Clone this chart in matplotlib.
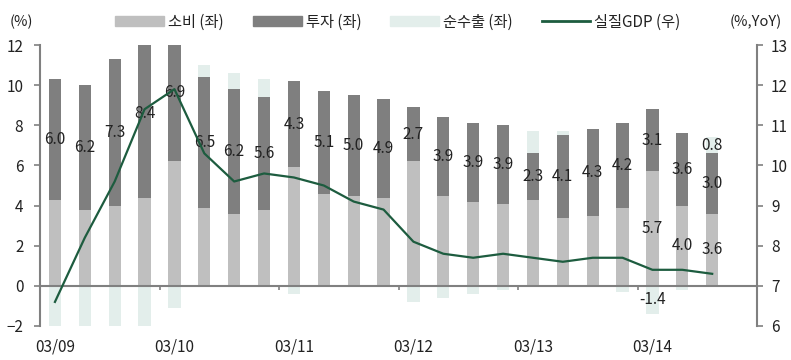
import matplotlib
matplotlib.use('Agg')
import matplotlib.pyplot as plt
from matplotlib.patches import Patch
from matplotlib.lines import Line2D
import numpy as np

plt.rcParams['font.family'] = ['Noto Sans CJK KR', 'DejaVu Sans']
plt.rcParams['axes.unicode_minus'] = True

# quarterly data, 09Q1 ~ 14Q3
consumption = [4.3, 3.8, 4.0, 4.4, 6.2, 3.9, 3.6, 3.8, 5.9, 4.6, 4.5, 4.4,
               6.2, 4.5, 4.2, 4.1, 4.3, 3.4, 3.5, 3.9, 5.7, 4.0, 3.6]
investment = [6.0, 6.2, 7.3, 8.4, 6.9, 6.5, 6.2, 5.6, 4.3, 5.1, 5.0, 4.9,
              2.7, 3.9, 3.9, 3.9, 2.3, 4.1, 4.3, 4.2, 3.1, 3.6, 3.0]
net_exports = [-3.7, -2.9, -2.5, -2.3, -1.1, 0.6, 0.8, 0.9, -0.4, 0.0, 0.0, 0.0,
               -0.8, -0.6, -0.4, -0.2, 1.1, 0.2, 0.0, -0.3, -1.4, -0.2, 0.8]
gdp = [6.6, 8.2, 9.6, 11.4, 11.9, 10.3, 9.6, 9.8, 9.7, 9.5, 9.1, 8.9,
       8.1, 7.8, 7.7, 7.8, 7.7, 7.6, 7.7, 7.7, 7.4, 7.4, 7.3]
year_labels = ['03/09', '03/10', '03/11', '03/12', '03/13', '03/14']
n_slots = 24  # axis runs to 14Q4

c_cons = '#bfbfbf'
c_inv = '#7f7f7f'
c_nx = '#e3eeeb'
c_gdp = '#1d5c3f'
c_axis = '#808080'
c_text = '#222222'

x = np.arange(len(consumption))
cons = np.array(consumption)
inv = np.array(investment)
nx = np.array(net_exports)
top = cons + inv
nx_bottom = np.where(nx >= 0, top, 0)

fig = plt.figure(figsize=(7.91, 3.6), dpi=100)
ax = fig.add_axes([40/791, 1-326/360, 717/791, 281/360])

w = 0.41
ax.bar(x, cons, w, color=c_cons, zorder=2)
ax.bar(x, inv, w, bottom=cons, color=c_inv, zorder=2)
ax.bar(x, nx, w, bottom=nx_bottom, color=c_nx, zorder=1)

ax.set_xlim(-0.5, n_slots - 0.5)
ax.set_ylim(-2, 12)
ax.set_yticks(range(-2, 13, 2))

for s in ['top', 'right']:
    ax.spines[s].set_visible(False)
ax.spines['left'].set_color(c_axis)
ax.spines['left'].set_linewidth(1.5)
ax.spines['bottom'].set_position(('data', 0))
ax.spines['bottom'].set_color(c_axis)
ax.spines['bottom'].set_linewidth(1.5)
ax.tick_params(axis='y', direction='out', length=4, width=1.2, color=c_axis,
               labelsize=11, labelcolor=c_text, pad=8)
ax.set_xticks(np.arange(3.5, n_slots - 1, 4))
ax.tick_params(axis='x', direction='out', length=3, width=1.2, color=c_axis,
               labelbottom=False)

sec = ax.secondary_xaxis(0.0)
sec.set_xticks(np.arange(0, n_slots, 4), year_labels)
sec.tick_params(length=0, pad=9, labelsize=11, labelcolor=c_text)
sec.spines['bottom'].set_visible(False)

# data labels
lab_size = 11
for i in range(len(x)):
    ax.text(x[i], cons[i] + inv[i] / 2, f'{inv[i]:.1f}', ha='center', va='center',
            fontsize=lab_size, color=c_text, zorder=3)
for i in [20, 21, 22]:
    ax.text(x[i], cons[i] / 2, f'{cons[i]:.1f}', ha='center', va='center',
            fontsize=lab_size, color=c_text, zorder=3)
for i in [20, 22]:
    ax.text(x[i], nx_bottom[i] + nx[i] / 2, f'{nx[i]:.1f}',
            ha='center', va='center', fontsize=lab_size, color=c_text, zorder=3)

ax2 = ax.twinx()
ax2.plot(x, gdp, color=c_gdp, lw=1.6)
ax2.set_ylim(6, 13)
ax2.set_yticks(range(6, 14))
for s in ['top', 'left', 'bottom']:
    ax2.spines[s].set_visible(False)
ax2.spines['right'].set_color(c_axis)
ax2.spines['right'].set_linewidth(1.5)
ax2.tick_params(axis='y', direction='out', length=4, width=1.2, color=c_axis,
                labelsize=11, labelcolor=c_text, pad=6)

fig.text(10/791, 1-22/360, '(%)', ha='left', va='center', fontsize=10.5, color=c_text)
fig.text(782/791, 1-22/360, '(%,YoY)', ha='right', va='center', fontsize=10.5, color=c_text)

handles = [Patch(color=c_cons), Patch(color=c_inv), Patch(color=c_nx),
           Line2D([], [], color=c_gdp, lw=2)]
labels = ['소비 (좌)', '투자 (좌)', '순수출 (좌)', '실질GDP (우)']
fig.legend(handles, labels, loc='center', bbox_to_anchor=(398/791, 1-22/360),
           ncol=4, frameon=False, fontsize=11, handlelength=3.2,
           handleheight=0.55, handletextpad=0.25, columnspacing=1.9,
           labelcolor=c_text)

fig.savefig('out.png', dpi=100)
